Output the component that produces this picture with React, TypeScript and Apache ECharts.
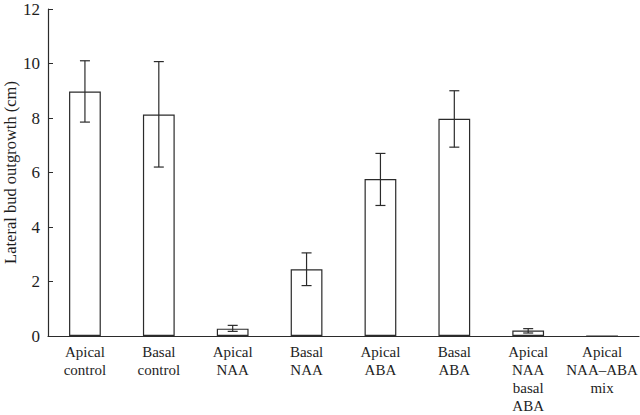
import React, { useEffect, useRef } from "react";
import * as echarts from "echarts";

const categories = [
  "Apical\ncontrol",
  "Basal\ncontrol",
  "Apical\nNAA",
  "Basal\nNAA",
  "Apical\nABA",
  "Basal\nABA",
  "Apical\nNAA\nbasal\nABA",
  "Apical\nNAA–ABA\nmix",
];
const means = [8.97, 8.13, 0.27, 2.45, 5.76, 7.97, 0.2, 0];
const errLow = [7.85, 6.2, 0.17, 1.85, 4.79, 6.93, 0.11, null];
const errHigh = [10.1, 10.07, 0.39, 3.05, 6.7, 9.0, 0.27, null];
const yTicks = [0, 2, 4, 6, 8, 10, 12];

const FONT = "Liberation Serif";
const INK = "#2b2b2b";

export default function App() {
  const ref = useRef<HTMLDivElement>(null);
  useEffect(() => {
    if (!ref.current) return;
    const chart = echarts.init(ref.current, undefined, { renderer: "svg" });
    const errData = categories
      .map((_, i) => [i, errLow[i], errHigh[i]])
      .filter((d) => d[1] !== null && d[2] !== null);
    chart.setOption({
      animation: false,
      grid: {
        left: 48,
        right: 1,
        top: 9,
        bottom: 79,
        containLabel: false,
        outerBoundsMode: "none",
      },
      xAxis: {
        type: "category",
        data: categories,
        boundaryGap: true,
        axisLine: { lineStyle: { color: INK, width: 1.2 } },
        axisTick: { inside: true, length: 4, lineStyle: { color: INK, width: 1 } },
        axisLabel: {
          interval: 0,
          margin: 7,
          color: "#1e1e1e",
          fontFamily: FONT,
          fontSize: 15,
          lineHeight: 18,
        },
      },
      yAxis: {
        type: "value",
        min: yTicks[0],
        max: yTicks[yTicks.length - 1],
        interval: 2,
        name: "Lateral bud outgrowth (cm)",
        nameLocation: "middle",
        nameGap: 29,
        nameMoveOverlap: false,
        nameTextStyle: { fontFamily: FONT, fontSize: 16.5, color: "#1e1e1e" },
        axisLine: { show: true, lineStyle: { color: INK, width: 1.2 } },
        axisTick: { show: true, inside: true, length: 5, lineStyle: { color: INK } },
        splitLine: { show: false },
        axisLabel: { margin: 8, color: "#1e1e1e", fontFamily: FONT, fontSize: 17 },
      },
      series: [
        {
          type: "bar",
          data: means,
          barWidth: "43%",
          itemStyle: { color: "#fff", borderColor: INK, borderWidth: 1.2 },
        },
        {
          type: "custom",
          data: errData,
          z: 10,
          renderItem: (params: any, api: any) => {
            const x = api.value(0);
            const lo = api.coord([x, api.value(1)]);
            const hi = api.coord([x, api.value(2)]);
            const cap = 5;
            const style = { stroke: INK, lineWidth: 1.2 };
            return {
              type: "group",
              children: [
                { type: "line", shape: { x1: lo[0], y1: lo[1], x2: hi[0], y2: hi[1] }, style },
                { type: "line", shape: { x1: hi[0] - cap, y1: hi[1], x2: hi[0] + cap, y2: hi[1] }, style },
                { type: "line", shape: { x1: lo[0] - cap, y1: lo[1], x2: lo[0] + cap, y2: lo[1] }, style },
              ],
            };
          },
        },
      ],
    });
    return () => chart.dispose();
  }, []);
  return (
    <div
      ref={ref}
      style={{ position: "absolute", left: 0, top: 0, width: 640, height: 415 }}
    />
  );
}
